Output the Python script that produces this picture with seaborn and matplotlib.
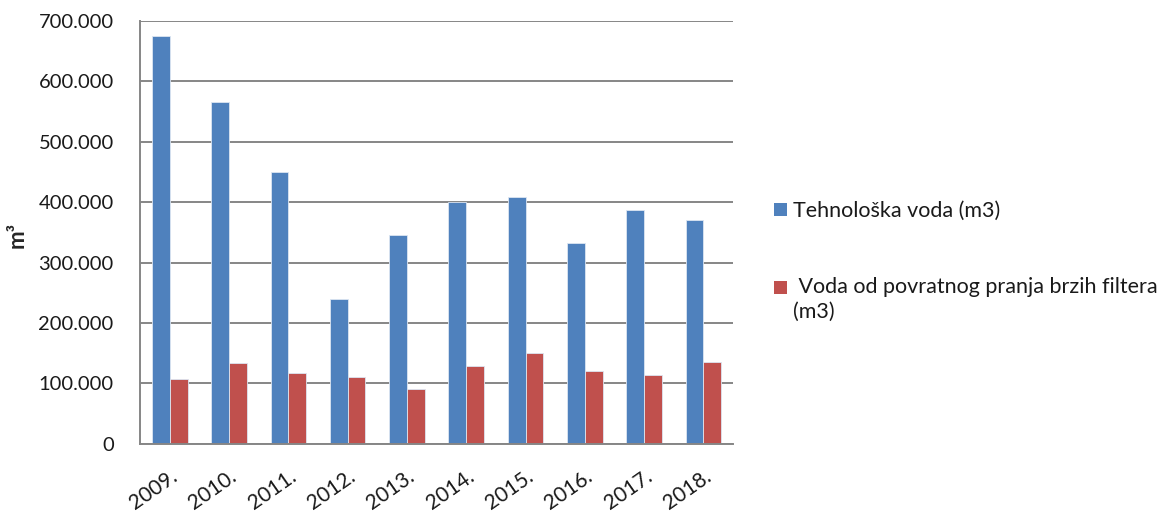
import pandas as pd
import matplotlib
matplotlib.use("Agg")
import matplotlib.pyplot as plt
from matplotlib.ticker import FuncFormatter, FixedLocator
from matplotlib.patches import Patch
import seaborn as sns

# data
years = ["2009.", "2010.", "2011.", "2012.", "2013.", "2014.", "2015.", "2016.", "2017.", "2018."]
tehnoloska = [675000, 566000, 450000, 240000, 345000, 400000, 409000, 332000, 387000, 370000]
povratno = [107000, 133000, 118000, 111000, 90000, 129000, 150000, 120000, 114000, 135000]
series_names = ["Tehnološka voda (m3)", " Voda od povratnog pranja brzih filtera\n(m3)"]
colors = ["#4F81BD", "#C0504D"]

df = pd.DataFrame({
    "year": years * 2,
    "value": tehnoloska + povratno,
    "series": [series_names[0]] * len(years) + [series_names[1]] * len(years),
})

sns.set_style("white")
plt.rcParams["font.family"] = ["Lato", "DejaVu Sans"]

fig = plt.figure(figsize=(11.73, 5.12), dpi=100)
ax = fig.add_axes([0.1194, 0.133, 0.5056, 0.8266])

sns.barplot(data=df, x="year", y="value", hue="series", palette=colors, saturation=1,
            width=0.6, edgecolor="#dce6f2", linewidth=0.6, legend=False, ax=ax)

grid_col = "#868686"
ax.set_ylim(0, 700000)
ax.set_xlim(-0.5, len(years) - 0.5)
ax.set_yticks(range(0, 700001, 100000))
ax.yaxis.set_major_formatter(FuncFormatter(lambda v, p: "0" if v == 0 else f"{int(v):,}".replace(",", ".")))
ax.yaxis.grid(True, color=grid_col, linewidth=1.4)
ax.set_axisbelow(True)

for s in ["top", "right"]:
    ax.spines[s].set_visible(False)
ax.spines["left"].set_color(grid_col)
ax.spines["left"].set_linewidth(1.4)
ax.spines["bottom"].set_color(grid_col)
ax.spines["bottom"].set_linewidth(1.4)

# x tick marks between groups, labels at group centres
ax.xaxis.set_minor_locator(FixedLocator([i - 0.5 for i in range(len(years) + 1)]))
ax.tick_params(axis="x", which="minor", length=7, width=1.4, color=grid_col, direction="out")
ax.tick_params(axis="x", which="major", length=0, pad=16, labelsize=15, labelcolor="#1a1a1a")
ax.tick_params(axis="y", which="major", length=7, width=1.4, color=grid_col, direction="out",
               labelsize=14.5, labelcolor="#1a1a1a", pad=12)
plt.setp(ax.get_xticklabels(), rotation=35, ha="right", rotation_mode="anchor")

ax.set_xlabel("")
ax.set_ylabel("m³", fontsize=16, fontweight="bold")
ax.yaxis.set_label_coords(-0.19, 0.494)

handles = [Patch(facecolor=c, edgecolor="none") for c in colors]
leg = fig.legend(handles, series_names, loc="upper left", bbox_to_anchor=(0.643, 0.645),
                 frameon=False, fontsize=15.5, handlelength=0.6, handleheight=0.6,
                 handletextpad=0.3, labelspacing=2.6)
for t in leg.get_texts():
    t.set_linespacing(1.3)
    t.set_color("#1a1a1a")
# put the red square next to the first line of its wrapped label
leg.legend_handles[1].set_y(leg.legend_handles[1].get_y() + 9)

fig.savefig("out.png", dpi=100)
